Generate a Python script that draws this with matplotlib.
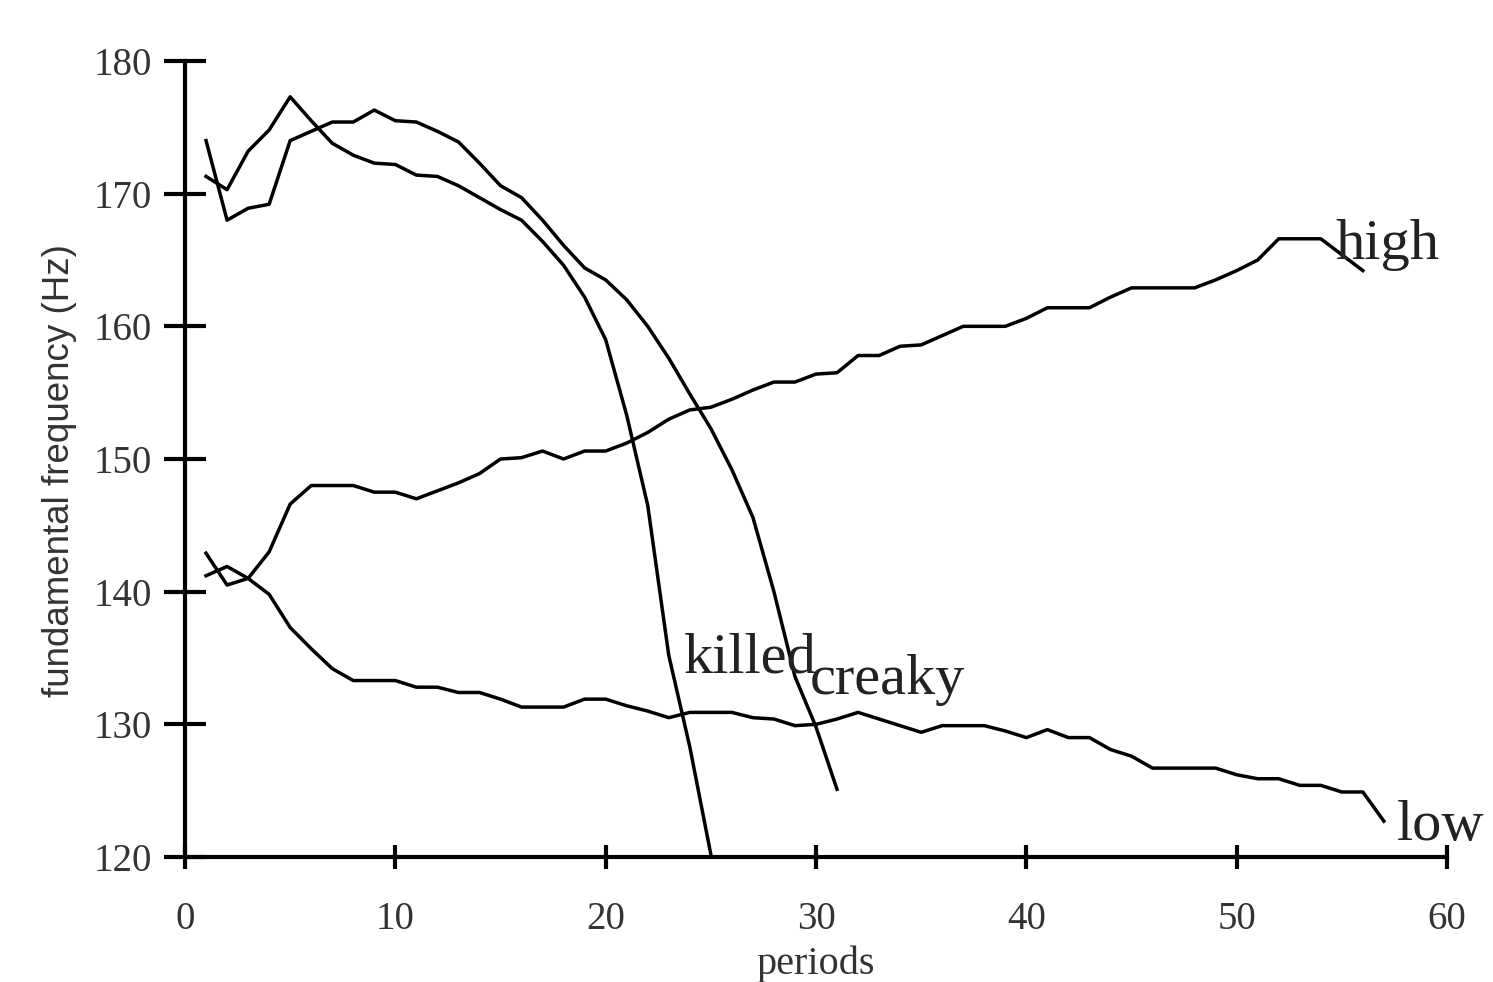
import matplotlib
matplotlib.use("Agg")
import matplotlib.pyplot as plt
import numpy as np

# ---- data ----
killed = [171.3, 170.3, 173.2, 174.8, 177.3, 175.5, 173.8, 172.9, 172.3, 172.2,
          171.4, 171.3, 170.6, 169.7, 168.8, 168.0, 166.4, 164.6, 162.2, 159.0,
          153.3, 146.5, 135.2, 128.3, 120.2]
creaky = [174.0, 168.0, 168.9, 169.2, 174.0, 174.7, 175.4, 175.4, 176.3, 175.5,
          175.4, 174.7, 173.9, 172.3, 170.6, 169.7, 168.0, 166.1, 164.4, 163.5,
          162.0, 160.0, 157.6, 154.9, 152.3, 149.2, 145.6, 140.0, 133.6, 129.8,
          125.1]
high = [141.2, 141.9, 141.0, 143.0, 146.6, 148.0, 148.0, 148.0, 147.5, 147.5,
        147.0, 147.6, 148.2, 148.9, 150.0, 150.1, 150.6, 150.0, 150.6, 150.6,
        151.2, 152.0, 153.0, 153.7, 153.9, 154.5, 155.2, 155.8, 155.8, 156.4,
        156.5, 157.8, 157.8, 158.5, 158.6, 159.3, 160.0, 160.0, 160.0, 160.6,
        161.4, 161.4, 161.4, 162.2, 162.9, 162.9, 162.9, 162.9, 163.5, 164.2,
        165.0, 166.6, 166.6, 166.6, 165.4, 164.2]
low = [142.9, 140.5, 141.0, 139.8, 137.3, 135.7, 134.2, 133.3, 133.3, 133.3,
       132.8, 132.8, 132.4, 132.4, 131.9, 131.3, 131.3, 131.3, 131.9, 131.9,
       131.4, 131.0, 130.5, 130.9, 130.9, 130.9, 130.5, 130.4, 129.9, 130.0,
       130.4, 130.9, 130.4, 129.9, 129.4, 129.9, 129.9, 129.9, 129.5, 129.0,
       129.6, 129.0, 129.0, 128.1, 127.6, 126.7, 126.7, 126.7, 126.7, 126.2,
       125.9, 125.9, 125.4, 125.4, 124.9, 124.9, 122.7]

series = {"killed": killed, "creaky": creaky, "high": high, "low": low}
label_pos = {"killed": (23.7, 133.9), "creaky": (29.7, 132.3),
             "high": (54.7, 165.1), "low": (57.6, 121.3)}

x_ticks = [0, 10, 20, 30, 40, 50, 60]
y_ticks = [120, 130, 140, 150, 160, 170, 180]

serif = ["Liberation Serif", "DejaVu Serif"]
sans = ["Liberation Sans", "DejaVu Sans"]

W, H = 1493, 982
fig = plt.figure(figsize=(W / 100, H / 100), dpi=100)
ax = fig.add_axes([185 / W, (H - 857) / H, (1447 - 185) / W, (857 - 61) / H])

for name, vals in series.items():
    periods = np.arange(1, len(vals) + 1)
    ax.plot(periods, vals, color="black", lw=2.5, solid_joinstyle="round",
            clip_on=False)
    tx, ty = label_pos[name]
    ax.text(tx, ty, name, family=serif, fontsize=42, color="#222222",
            ha="left", va="baseline")

ax.set_xlim(0, 60)
ax.set_ylim(120, 180)
ax.set_xticks(x_ticks)
ax.set_yticks(y_ticks)
ax.set_xticklabels([str(t) for t in x_ticks], family=serif, fontsize=28, color="#333333")
ax.set_yticklabels([str(t) for t in y_ticks], family=serif, fontsize=28, color="#333333")

for s in ["top", "right"]:
    ax.spines[s].set_visible(False)
for s in ["left", "bottom"]:
    ax.spines[s].set_linewidth(3.0)
    ax.spines[s].set_color("black")

ax.tick_params(axis="y", direction="inout", length=30, width=3.0, pad=9)
ax.tick_params(axis="x", direction="inout", length=17, width=3.0, pad=23)

fig.text(816 / W, (H - 974) / H, "periods", family=serif, fontsize=29,
         color="#333333", ha="center", va="baseline")
fig.text(60 / W, (H - 471) / H, "fundamental frequency (Hz)", family=sans,
         fontsize=26.5, color="#333333", rotation=90, ha="center", va="center")

fig.savefig("out.png", dpi=100)
